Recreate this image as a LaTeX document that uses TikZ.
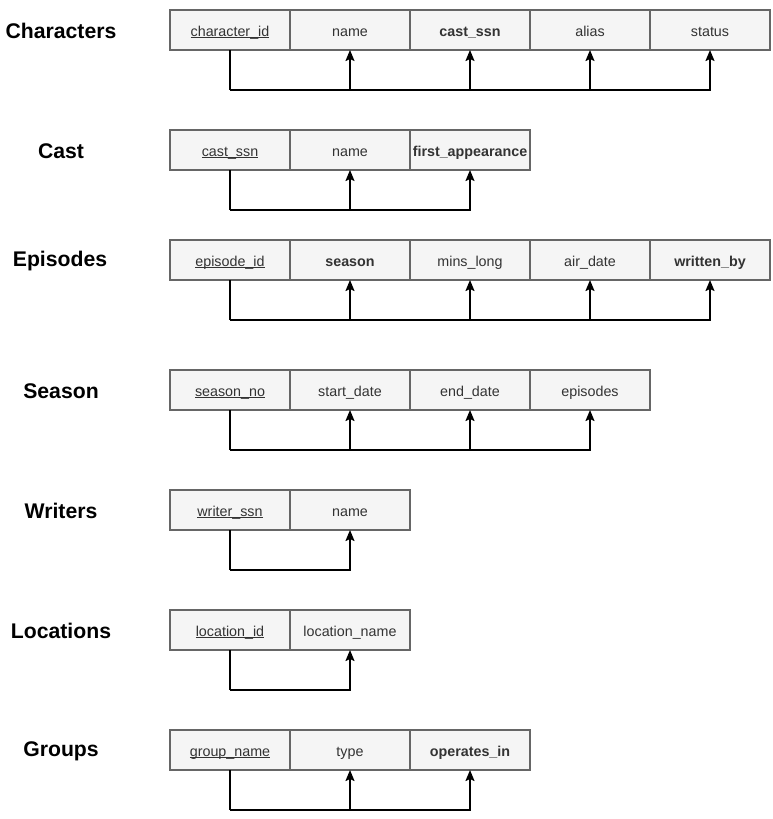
\documentclass[tikz,border=0pt]{standalone}
\usepackage{fontspec}
\setmainfont{Liberation Sans}
\usepackage{xcolor}
\usetikzlibrary{arrows.meta,positioning}
\definecolor{cellfill}{RGB}{245,245,245}
\definecolor{celldraw}{RGB}{102,102,102}
\definecolor{celltext}{RGB}{51,51,51}
\tikzset{
  cell/.style={rectangle,draw=celldraw,fill=cellfill,line width=2pt,
               minimum width=120pt,minimum height=40pt,inner sep=0pt,outer sep=0pt,
               text=celltext,text height=13pt,text depth=0pt,
               font=\fontsize{14.3}{17}\selectfont},
  fkcell/.style={cell,font=\fontsize{14.3}{17}\selectfont\bfseries},
  tname/.style={font=\fontsize{21.2}{25}\selectfont\bfseries,text=black},
  link/.style={-{Stealth[length=11pt,width=9pt,inset=2pt]},line width=1.6pt,black},
  trunk/.style={line width=1.6pt,black},
}
\newcommand{\pk}[1]{\setbox0\hbox{#1}\rlap{\rule[-1.6pt]{\wd0}{0.8pt}}\box0}

\begin{document}
\begin{tikzpicture}[x=1pt,y=-1pt]
  \useasboundingbox (0,0) rectangle (772,819);

  % Characters
  \node[tname] (tch) at (61,31) {Characters};
  \node[cell] (ch1) at (230,30) {\pk{character\_id}};
  \node[cell,right=0pt of ch1] (ch2) {name};
  \node[fkcell,right=0pt of ch2] (ch3) {cast\_ssn};
  \node[cell,right=0pt of ch3] (ch4) {alias};
  \node[cell,right=0pt of ch4] (ch5) {status};
  \coordinate (chb) at ([yshift=-40pt]ch1.south);
  \draw[trunk] (ch1.south) -- (chb);
  \foreach \i in {2,...,5} \draw[link] (chb) -| (ch\i.south);

  % Cast
  \node[tname] (tca) at (61,151) {Cast};
  \node[cell] (ca1) at (230,150) {\pk{cast\_ssn}};
  \node[cell,right=0pt of ca1] (ca2) {name};
  \node[fkcell,right=0pt of ca2] (ca3) {first\_appearance};
  \coordinate (cab) at ([yshift=-40pt]ca1.south);
  \draw[trunk] (ca1.south) -- (cab);
  \foreach \i in {2,3} \draw[link] (cab) -| (ca\i.south);

  % Episodes
  \node[tname] (tep) at (60,261) {Episodes};
  \node[cell] (ep1) at (230,260) {\pk{episode\_id}};
  \node[fkcell,right=0pt of ep1] (ep2) {season};
  \node[cell,right=0pt of ep2] (ep3) {mins\_long};
  \node[cell,right=0pt of ep3] (ep4) {air\_date};
  \node[fkcell,right=0pt of ep4] (ep5) {written\_by};
  \coordinate (epb) at ([yshift=-40pt]ep1.south);
  \draw[trunk] (ep1.south) -- (epb);
  \foreach \i in {2,...,5} \draw[link] (epb) -| (ep\i.south);

  % Season
  \node[tname] (tse) at (61,391) {Season};
  \node[cell] (se1) at (230,390) {\pk{season\_no}};
  \node[cell,right=0pt of se1] (se2) {start\_date};
  \node[cell,right=0pt of se2] (se3) {end\_date};
  \node[cell,right=0pt of se3] (se4) {episodes};
  \coordinate (seb) at ([yshift=-40pt]se1.south);
  \draw[trunk] (se1.south) -- (seb);
  \foreach \i in {2,...,4} \draw[link] (seb) -| (se\i.south);

  % Writers
  \node[tname] (twr) at (61,511) {Writers};
  \node[cell] (wr1) at (230,510) {\pk{writer\_ssn}};
  \node[cell,right=0pt of wr1] (wr2) {name};
  \coordinate (wrb) at ([yshift=-40pt]wr1.south);
  \draw[trunk] (wr1.south) -- (wrb);
  \draw[link] (wrb) -| (wr2.south);

  % Locations
  \node[tname] (tlo) at (61,631) {Locations};
  \node[cell] (lo1) at (230,630) {\pk{location\_id}};
  \node[cell,right=0pt of lo1] (lo2) {location\_name};
  \coordinate (lob) at ([yshift=-40pt]lo1.south);
  \draw[trunk] (lo1.south) -- (lob);
  \draw[link] (lob) -| (lo2.south);

  % Groups
  \node[tname] (tgr) at (61,751) {Groups};
  \node[cell] (gr1) at (230,750) {\pk{group\_name}};
  \node[cell,right=0pt of gr1] (gr2) {type};
  \node[fkcell,right=0pt of gr2] (gr3) {operates\_in};
  \coordinate (grb) at ([yshift=-40pt]gr1.south);
  \draw[trunk] (gr1.south) -- (grb);
  \foreach \i in {2,3} \draw[link] (grb) -| (gr\i.south);
\end{tikzpicture}
\end{document}
